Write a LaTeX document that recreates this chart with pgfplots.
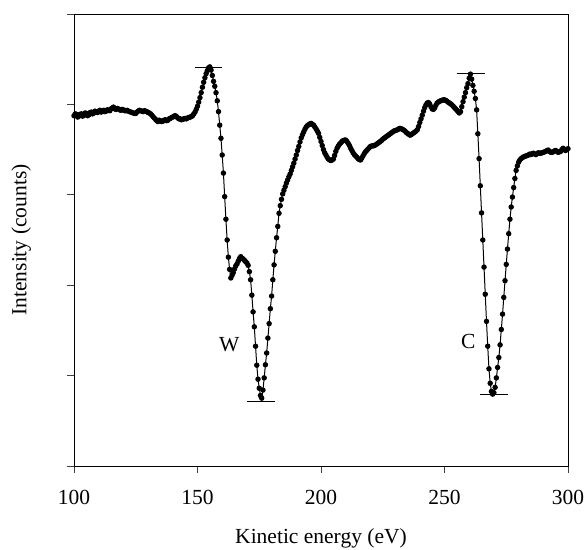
\documentclass[border=0pt]{standalone}
\usepackage{fontspec}
\setmainfont{Liberation Serif}
\usepackage{pgfplots}
\pgfplotsset{compat=1.18}
\pgfplotstableread{
E I
100 77.5
100.5 77.9
101 77.8
101.5 77.2
102 77.4
102.5 77.8
103 77.9
103.5 77.4
104 77.6
104.5 78.1
105 78.0
105.5 77.5
106 77.7
106.5 78.2
107 78.3
107.5 77.9
108 78.1
108.5 78.5
109 78.3
109.5 78.2
110 78.5
110.5 78.7
111 78.3
111.5 78.5
112 78.7
112.5 78.4
113 78.5
113.5 78.8
114 78.7
114.5 78.6
115 79.0
115.5 79.2
116 79.4
116.5 79.0
117 78.9
117.5 79.1
118 79.0
118.5 78.8
119 78.7
119.5 78.9
120 78.8
120.5 78.6
121 78.6
121.5 78.7
122 78.5
122.5 78.4
123 78.3
123.5 78.2
124 78.1
124.5 78.0
125 78.0
125.5 78.3
126 78.5
126.5 78.7
127 78.6
127.5 78.5
128 78.4
128.5 78.6
129 78.5
129.5 78.4
130 78.2
130.5 78.1
131 77.9
131.5 77.6
132 77.3
132.5 77.0
133 76.7
133.5 76.4
134 76.2
134.5 76.5
135 76.4
135.5 76.2
136 76.3
136.5 76.5
137 76.6
137.5 76.4
138 76.5
138.5 76.8
139 76.9
139.5 77.1
140 77.2
140.5 77.4
141 77.5
141.5 77.3
142 77.0
142.5 76.8
143 76.8
143.5 76.6
144 76.7
144.5 76.8
145 76.9
145.5 76.8
146 77.0
146.5 77.1
147 77.2
147.5 77.3
148 77.5
148.5 77.9
149 78.3
149.5 78.9
150 79.6
150.5 80.5
151 81.5
151.5 82.6
152 83.8
152.5 84.9
153 85.9
153.5 86.8
154 87.5
154.5 88.1
155 88.3
155.5 87.6
156 86.4
156.5 85.1
157 84.0
157.5 82.6
158 80.8
158.5 78.4
159 75.4
159.5 72.5
160 68.8
160.5 64.8
161 59.6
161.5 54.6
162 50.0
162.5 46.2
163 43.5
163.5 41.6
164 42.2
164.5 42.8
165 43.6
165.5 44.3
166 44.7
166.5 45.3
167 45.9
167.5 46.3
168 46.0
168.5 45.8
169 45.5
169.5 45.2
170 44.9
170.5 44.4
171 43.0
171.5 41.2
172 37.8
172.5 34.1
173 30.8
173.5 26.5
174 22.3
174.5 19.2
175 17.2
175.5 15.6
176 15.0
176.5 16.8
177 19.5
177.5 22.4
178 25.0
178.5 28.3
179 31.5
179.5 34.8
180 37.6
180.5 41.2
181 44.5
181.5 47.5
182 50.5
182.5 53.0
183 55.9
183.5 57.6
184 59.0
184.5 60.2
185 61.0
185.5 61.8
186 62.6
186.5 63.3
187 64.0
187.5 64.6
188 65.4
188.5 66.2
189 67.0
189.5 67.9
190 68.8
190.5 69.8
191 70.7
191.5 71.7
192 72.6
192.5 73.3
193 73.9
193.5 74.5
194 75.0
194.5 75.3
195 75.5
195.5 75.7
196 75.8
196.5 75.6
197 75.4
197.5 75.0
198 74.6
198.5 74.1
199 73.6
199.5 72.7
200 71.8
200.5 70.9
201 70.0
201.5 69.3
202 68.8
202.5 68.3
203 67.9
203.5 67.7
204 67.6
204.5 67.7
205 67.9
205.5 68.7
206 69.6
206.5 70.3
207 70.8
207.5 71.2
208 71.5
208.5 71.8
209 72.0
209.5 72.1
210 72.1
210.5 71.8
211 71.4
211.5 70.9
212 70.3
212.5 69.8
213 69.3
213.5 68.9
214 68.6
214.5 68.3
215 68.0
215.5 67.8
216 67.7
216.5 68.1
217 68.6
217.5 69.1
218 69.5
218.5 69.8
219 70.1
219.5 70.4
220 70.7
220.5 70.8
221 70.8
221.5 70.9
222 71.0
222.5 71.2
223 71.4
223.5 71.6
224 71.8
224.5 72.0
225 72.3
225.5 72.5
226 72.7
226.5 72.9
227 73.1
227.5 73.3
228 73.5
228.5 73.7
229 73.9
229.5 74.1
230 74.2
230.5 74.3
231 74.4
231.5 74.6
232 74.7
232.5 74.6
233 74.5
233.5 74.3
234 74.1
234.5 73.8
235 73.6
235.5 73.4
236 73.2
236.5 73.3
237 73.5
237.5 73.7
238 73.9
238.5 74.1
239 74.4
239.5 75.1
240 76.0
240.5 76.8
241 77.6
241.5 78.5
242 79.3
242.5 79.9
243 80.3
243.5 80.4
244 80.1
244.5 79.5
245 79.0
245.5 78.9
246 79.2
246.5 79.8
247 80.3
247.5 80.5
248 80.7
248.5 80.8
249 80.9
249.5 81.0
250 81.0
250.5 80.9
251 80.7
251.5 80.5
252 80.3
252.5 80.1
253 79.9
253.5 79.6
254 79.3
254.5 79.0
255 78.7
255.5 78.4
256 78.1
256.5 78.4
257 79.5
257.5 80.6
258 81.6
258.5 82.6
259 83.7
259.5 84.6
260 85.8
260.5 86.7
261 85.6
261.5 84.2
262 82.9
262.5 81.3
263 78.8
263.5 73.5
264 68.0
264.5 62.0
265 56.0
265.5 50.0
266 44.0
266.5 38.0
267 32.0
267.5 26.5
268 21.5
268.5 18.3
269 16.5
269.5 15.9
270 16.2
270.5 17.4
271 19.5
271.5 21.8
272 24.0
272.5 26.8
273 30.2
273.5 33.6
274 37.3
274.5 41.0
275 44.6
275.5 48.0
276 51.4
276.5 54.6
277 57.3
277.5 59.5
278 61.6
278.5 63.6
279 65.4
279.5 66.4
280 67.2
280.5 67.7
281 68.0
281.5 68.2
282 68.4
282.5 68.5
283 68.6
283.5 68.7
284 68.8
284.5 69.0
285 68.9
285.5 69.1
286 69.2
286.5 69.0
287 68.9
287.5 69.1
288 69.3
288.5 69.2
289 69.2
289.5 69.3
290 69.4
290.5 69.5
291 69.6
291.5 69.8
292 69.9
292.5 69.6
293 69.4
293.5 69.4
294 69.5
294.5 69.7
295 69.8
295.5 69.6
296 69.4
296.5 69.5
297 69.6
297.5 70.0
298 70.3
298.5 70.0
299 69.8
299.5 70.0
300 70.2
}\spectrum
\begin{document}
\fontsize{21.5bp}{26bp}\selectfont
\begin{tikzpicture}
\path[use as bounding box] (-74bp,-84bp) rectangle (511bp,466bp);
\begin{axis}[
  at={(0,0)}, anchor=south west,
  scale only axis, width=494bp, height=452bp,
  xmin=100, xmax=300, ymin=0, ymax=100,
  xtick={100,150,200,250,300},
  ytick={0,20,40,60,80,100},
  yticklabels={},
  xtick pos=bottom, ytick pos=left,
  tick align=outside,
  major tick length=7bp,
  axis line style={line width=0.8bp, black},
  every tick/.style={line width=0.8bp, black!75},
  /pgf/number format/assume math mode=true,
  xticklabel style={font=\fontsize{21.5bp}{26bp}\selectfont, yshift=-10bp},
  label style={font=\fontsize{21.5bp}{26bp}\selectfont},
  xlabel={Kinetic energy (eV)},
  ylabel={Intensity (counts)},
  xlabel style={at={(axis description cs:0.5,-0.159)}, anchor=center},
  ylabel style={at={(axis description cs:-0.107,0.5)}, anchor=center},
  clip=false,
]
\addplot[black, line width=1bp, mark=*, mark size=2.2bp, mark options={fill=black}] table[x=E, y=I] {\spectrum};
\addplot[black, line width=0.8bp, no marks] coordinates {(149,88.2) (160,88.2)};
\addplot[black, line width=0.8bp, no marks] coordinates {(170.2,14.4) (181.4,14.4)};
\addplot[black, line width=0.8bp, no marks] coordinates {(254.9,86.9) (266.4,86.9)};
\addplot[black, line width=0.8bp, no marks] coordinates {(264.4,15.9) (275.6,15.9)};
\node at (axis cs:162.9,26.8) {W};
\node at (axis cs:259.6,27.5) {C};
\end{axis}
\end{tikzpicture}
\end{document}
